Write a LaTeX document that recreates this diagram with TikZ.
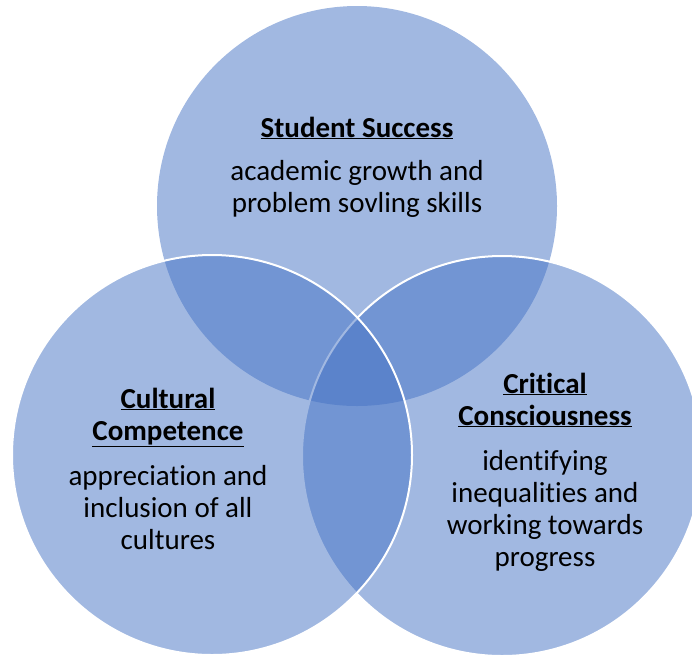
\documentclass[tikz,border=0pt]{standalone}
\usepackage{fontspec}
\setmainfont[Ligatures=NoCommon]{Carlito}
\definecolor{venn}{HTML}{4472C4}
\begin{document}
\begin{tikzpicture}[x=1pt,y=-1pt,
  ring/.style={fill=venn,fill opacity=0.5},
  ringline/.style={draw=white,line width=2pt},
  ttl/.style={align=center,font=\fontsize{29}{32}\selectfont\bfseries,inner sep=0pt,anchor=base},
  body/.style={align=center,font=\fontsize{29}{32}\selectfont,inner sep=0pt,anchor=base}]
\useasboundingbox (0,0) rectangle (692,657);
\begin{scope}
\clip (0,0) rectangle (692,657);
\fill[ring] (357,206) circle (200);
\fill[ring] (502,456) circle (200);
\draw[ringline] (502,456) circle (200);
\fill[ring] (212,455) circle (200);
\draw[ringline] (212,455) circle (200);
\end{scope}
\node[ttl] (t1) at (357,137) {\underline{Student Success}};
\node[body] (b1) at (357,212) {academic growth and\\problem sovling skills};
\node[ttl] (t2) at (168,440) {\underline{Cultural}\\\underline{Competence}};
\node[body] (b2) at (168,549) {appreciation and\\inclusion of all\\cultures};
\node[ttl] (t3) at (545,425) {\underline{Critical}\\\underline{Consciousness}};
\node[body] (b3) at (545,566) {identifying\\inequalities and\\working towards\\progress};
\end{tikzpicture}
\end{document}
